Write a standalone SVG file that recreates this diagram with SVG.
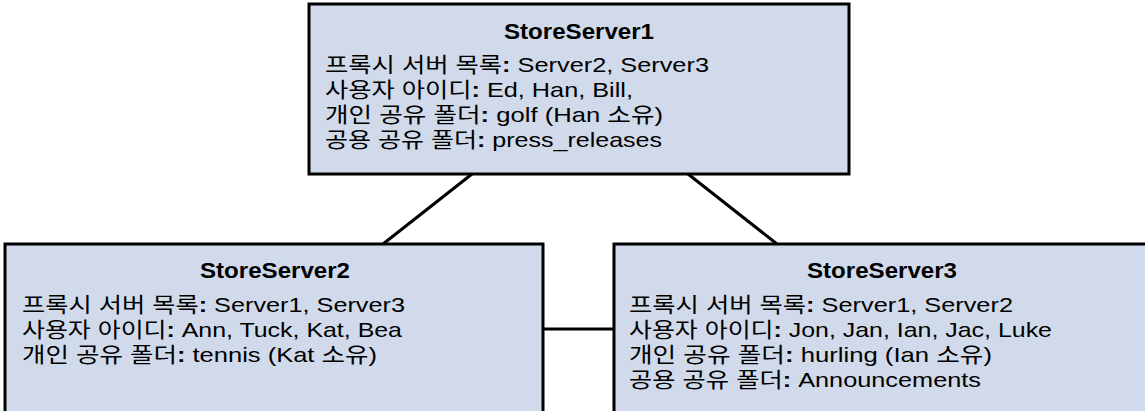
<svg xmlns="http://www.w3.org/2000/svg" width="1145" height="411" viewBox="0 0 1145 411">
<style>
.box{fill:#D1DAEA;stroke:#000;stroke-width:3}
.conn line{stroke:#000;stroke-width:3}
text{font-family:"Liberation Sans","Noto Sans CJK KR",sans-serif;fill:#000}
.t{font-size:22px;font-weight:bold;text-anchor:middle}
.l{font-size:21px}
.b{font-weight:bold}
</style>
<rect width="1145" height="411" fill="#fff"/>
<g class="conn" id="connectors">
<line x1="472" y1="174" x2="383" y2="244"/>
<line x1="688" y1="174" x2="777" y2="244"/>
<line x1="543" y1="329" x2="614" y2="329"/>
</g>
<g id="StoreServer1">
<rect class="box" x="309" y="4" width="540" height="170"/>
<text class="t" x="579" y="39" textLength="150" lengthAdjust="spacingAndGlyphs">StoreServer1</text>
<text class="l" x="325" y="72" textLength="384" lengthAdjust="spacingAndGlyphs">프록시 서버 목록<tspan class="b">:</tspan> Server2, Server3</text>
<text class="l" x="325" y="97" textLength="308" lengthAdjust="spacingAndGlyphs">사용자 아이디<tspan class="b">:</tspan> Ed, Han, Bill,</text>
<text class="l" x="325" y="122" textLength="338" lengthAdjust="spacingAndGlyphs">개인 공유 폴더<tspan class="b">:</tspan> golf (Han 소유)</text>
<text class="l" x="325" y="147" textLength="337" lengthAdjust="spacingAndGlyphs">공용 공유 폴더<tspan class="b">:</tspan> press_releases</text>
</g>
<g id="StoreServer2">
<rect class="box" x="5" y="244" width="538" height="200"/>
<text class="t" x="275" y="278" textLength="150" lengthAdjust="spacingAndGlyphs">StoreServer2</text>
<text class="l" x="22" y="312" textLength="383" lengthAdjust="spacingAndGlyphs">프록시 서버 목록<tspan class="b">:</tspan> Server1, Server3</text>
<text class="l" x="22" y="337" textLength="380" lengthAdjust="spacingAndGlyphs">사용자 아이디<tspan class="b">:</tspan> Ann, Tuck, Kat, Bea</text>
<text class="l" x="22" y="362" textLength="355" lengthAdjust="spacingAndGlyphs">개인 공유 폴더<tspan class="b">:</tspan> tennis (Kat 소유)</text>
</g>
<g id="StoreServer3">
<rect class="box" x="614" y="244" width="600" height="200"/>
<text class="t" x="882" y="278" textLength="150" lengthAdjust="spacingAndGlyphs">StoreServer3</text>
<text class="l" x="629" y="312" textLength="384" lengthAdjust="spacingAndGlyphs">프록시 서버 목록<tspan class="b">:</tspan> Server1, Server2</text>
<text class="l" x="629" y="337" textLength="423" lengthAdjust="spacingAndGlyphs">사용자 아이디<tspan class="b">:</tspan> Jon, Jan, Ian, Jac, Luke</text>
<text class="l" x="629" y="362" textLength="363" lengthAdjust="spacingAndGlyphs">개인 공유 폴더<tspan class="b">:</tspan> hurling (Ian 소유)</text>
<text class="l" x="629" y="387" textLength="352" lengthAdjust="spacingAndGlyphs">공용 공유 폴더<tspan class="b">:</tspan> Announcements</text>
</g>
</svg>
